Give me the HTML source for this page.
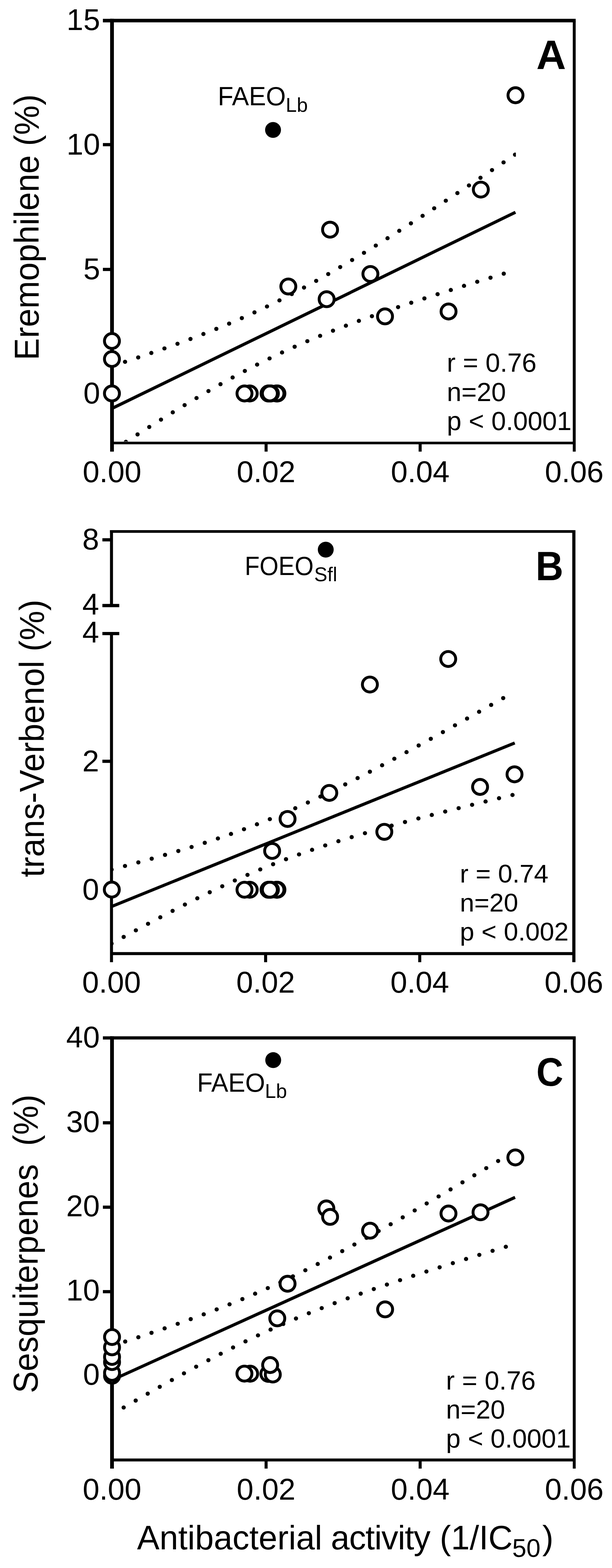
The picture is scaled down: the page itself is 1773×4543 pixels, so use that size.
<!DOCTYPE html>
<html lang="en">
<head>
<meta charset="utf-8">
<title>Correlation of essential oil components with antibacterial activity</title>
<style>
html,body{margin:0;padding:0;background:#fff;}
body{width:1773px;height:4543px;overflow:hidden;}
svg{display:block;}
svg text{font-family:"Liberation Sans", sans-serif;fill:#000;white-space:pre;}
</style>
</head>
<body>
<svg width="1773" height="4543" viewBox="0 0 1773 4543" role="img" aria-label="Scatter plots of essential oil components versus antibacterial activity">
<rect width="1773" height="4543" fill="#fff"/>
<clipPath id="clipA"><rect x="324.5" y="59.7" width="1170.0" height="1219.3"/></clipPath>
<g clip-path="url(#clipA)" fill="#000">
<circle cx="324.1" cy="1060.7" r="6.1"/>
<circle cx="362.3" cy="1048.3" r="6.1"/>
<circle cx="400.4" cy="1035.6" r="6.1"/>
<circle cx="438.4" cy="1022.7" r="6.1"/>
<circle cx="476.4" cy="1009.5" r="6.1"/>
<circle cx="514.2" cy="996.0" r="6.1"/>
<circle cx="551.8" cy="982.1" r="6.1"/>
<circle cx="589.3" cy="967.7" r="6.1"/>
<circle cx="626.7" cy="952.9" r="6.1"/>
<circle cx="663.8" cy="937.6" r="6.1"/>
<circle cx="700.6" cy="921.6" r="6.1"/>
<circle cx="737.2" cy="905.1" r="6.1"/>
<circle cx="773.5" cy="888.0" r="6.1"/>
<circle cx="809.6" cy="870.3" r="6.1"/>
<circle cx="845.3" cy="852.0" r="6.1"/>
<circle cx="880.8" cy="833.1" r="6.1"/>
<circle cx="916.0" cy="813.8" r="6.1"/>
<circle cx="950.9" cy="794.0" r="6.1"/>
<circle cx="985.6" cy="773.8" r="6.1"/>
<circle cx="1020.1" cy="753.3" r="6.1"/>
<circle cx="1054.5" cy="732.5" r="6.1"/>
<circle cx="1088.7" cy="711.5" r="6.1"/>
<circle cx="1122.7" cy="690.2" r="6.1"/>
<circle cx="1156.7" cy="668.7" r="6.1"/>
<circle cx="1190.5" cy="647.1" r="6.1"/>
<circle cx="1224.3" cy="625.3" r="6.1"/>
<circle cx="1257.9" cy="603.5" r="6.1"/>
<circle cx="1291.5" cy="581.5" r="6.1"/>
<circle cx="1325.1" cy="559.4" r="6.1"/>
<circle cx="1358.6" cy="537.3" r="6.1"/>
<circle cx="1392.0" cy="515.1" r="6.1"/>
<circle cx="1425.4" cy="492.8" r="6.1"/>
<circle cx="1458.8" cy="470.5" r="6.1"/>
<circle cx="1492.1" cy="448.1" r="6.1"/>
<circle cx="331.0" cy="1302.0" r="6.1"/>
<circle cx="364.7" cy="1280.2" r="6.1"/>
<circle cx="398.5" cy="1258.6" r="6.1"/>
<circle cx="432.4" cy="1237.1" r="6.1"/>
<circle cx="466.4" cy="1215.8" r="6.1"/>
<circle cx="500.5" cy="1194.7" r="6.1"/>
<circle cx="534.8" cy="1173.8" r="6.1"/>
<circle cx="569.3" cy="1153.3" r="6.1"/>
<circle cx="603.9" cy="1133.0" r="6.1"/>
<circle cx="638.8" cy="1113.1" r="6.1"/>
<circle cx="673.9" cy="1093.7" r="6.1"/>
<circle cx="709.3" cy="1074.8" r="6.1"/>
<circle cx="744.9" cy="1056.3" r="6.1"/>
<circle cx="780.9" cy="1038.5" r="6.1"/>
<circle cx="817.1" cy="1021.2" r="6.1"/>
<circle cx="853.6" cy="1004.6" r="6.1"/>
<circle cx="890.4" cy="988.5" r="6.1"/>
<circle cx="927.4" cy="973.0" r="6.1"/>
<circle cx="964.7" cy="958.1" r="6.1"/>
<circle cx="1002.1" cy="943.7" r="6.1"/>
<circle cx="1039.7" cy="929.7" r="6.1"/>
<circle cx="1077.5" cy="916.1" r="6.1"/>
<circle cx="1115.4" cy="902.8" r="6.1"/>
<circle cx="1153.3" cy="889.8" r="6.1"/>
<circle cx="1191.4" cy="877.1" r="6.1"/>
<circle cx="1229.5" cy="864.6" r="6.1"/>
<circle cx="1267.7" cy="852.3" r="6.1"/>
<circle cx="1306.0" cy="840.2" r="6.1"/>
<circle cx="1344.3" cy="828.2" r="6.1"/>
<circle cx="1382.6" cy="816.3" r="6.1"/>
<circle cx="1421.0" cy="804.6" r="6.1"/>
<circle cx="1459.4" cy="792.9" r="6.1"/>
</g>
<line x1="324.5" y1="1183.4" x2="1493.3" y2="615.0" stroke="#000" stroke-width="9.0"/>
<line x1="319.05" x2="1667.80" y1="59.7" y2="59.7" stroke="#000" stroke-width="10.3"/>
<line x1="1663.6" x2="1663.6" y1="59.7" y2="1308.5" stroke="#000" stroke-width="8.4"/>
<line x1="324.5" x2="1663.6" y1="1283.5" y2="1283.5" stroke="#000" stroke-width="7.6"/>
<line x1="324.5" x2="324.5" y1="54.55" y2="1308.5" stroke="#000" stroke-width="10.9"/>
<line x1="770.9" x2="770.9" y1="1283.5" y2="1308.5" stroke="#000" stroke-width="8.8"/>
<line x1="1217.2" x2="1217.2" y1="1283.5" y2="1308.5" stroke="#000" stroke-width="8.8"/>
<text x="324.5" y="1396.5" font-size="87.4" text-anchor="middle">0.00</text>
<text x="770.9" y="1396.5" font-size="87.4" text-anchor="middle">0.02</text>
<text x="1217.2" y="1396.5" font-size="87.4" text-anchor="middle">0.04</text>
<text x="1663.6" y="1396.5" font-size="87.4" text-anchor="middle">0.06</text>
<line x1="298.1" x2="324.5" y1="59.7" y2="59.7" stroke="#000" stroke-width="10.3"/>
<text x="290" y="87.0" font-size="87.4" text-anchor="end">15</text>
<line x1="298.1" x2="324.5" y1="419.1" y2="419.1" stroke="#000" stroke-width="9.3"/>
<text x="290" y="447.6" font-size="87.4" text-anchor="end">10</text>
<line x1="298.1" x2="324.5" y1="780.6" y2="780.6" stroke="#000" stroke-width="9.3"/>
<text x="290" y="809.1" font-size="87.4" text-anchor="end">5</text>
<text x="290" y="1169.0" font-size="87.4" text-anchor="end">0</text>
<circle cx="1493.4" cy="276.0" r="21.7" fill="#fff" stroke="#000" stroke-width="8.4"/>
<circle cx="1393" cy="549.3" r="21.7" fill="#fff" stroke="#000" stroke-width="8.4"/>
<circle cx="956.2" cy="665.4" r="21.7" fill="#fff" stroke="#000" stroke-width="8.4"/>
<circle cx="1073.1" cy="793.8" r="21.7" fill="#fff" stroke="#000" stroke-width="8.4"/>
<circle cx="835.3" cy="830.1" r="21.7" fill="#fff" stroke="#000" stroke-width="8.4"/>
<circle cx="946.3" cy="866.9" r="21.7" fill="#fff" stroke="#000" stroke-width="8.4"/>
<circle cx="1299.5" cy="902.5" r="21.7" fill="#fff" stroke="#000" stroke-width="8.4"/>
<circle cx="1115.4" cy="916.7" r="21.7" fill="#fff" stroke="#000" stroke-width="8.4"/>
<circle cx="803.7" cy="1140" r="21.7" fill="#fff" stroke="#000" stroke-width="8.4"/>
<circle cx="800.9" cy="1140" r="21.7" fill="#fff" stroke="#000" stroke-width="8.4"/>
<circle cx="784.8" cy="1140" r="21.7" fill="#fff" stroke="#000" stroke-width="8.4"/>
<circle cx="778" cy="1140" r="21.7" fill="#fff" stroke="#000" stroke-width="8.4"/>
<circle cx="781.8" cy="1140" r="21.7" fill="#fff" stroke="#000" stroke-width="8.4"/>
<circle cx="723.5" cy="1140" r="21.7" fill="#fff" stroke="#000" stroke-width="8.4"/>
<circle cx="708.3" cy="1140" r="21.7" fill="#fff" stroke="#000" stroke-width="8.4"/>
<circle cx="324.3" cy="1139.9" r="21.7" fill="#fff" stroke="#000" stroke-width="8.4"/>
<circle cx="324.3" cy="1040.2" r="21.7" fill="#fff" stroke="#000" stroke-width="8.4"/>
<circle cx="324.3" cy="988.0" r="21.7" fill="#fff" stroke="#000" stroke-width="8.4"/>
<circle cx="791" cy="376.4" r="23.0" fill="#000"/>
<text transform="translate(1596.7,200.2) scale(1,1)" font-size="119" font-weight="bold" text-anchor="middle">A</text>
<text transform="translate(631,305.4) scale(0.965,1)" font-size="76.5">FAEO</text>
<text x="827.8" y="323.5" font-size="57.5">Lb</text>
<text x="1294.5" y="1077.3" font-size="76" xml:space="preserve">r = 0.76</text>
<text x="1294.5" y="1161.6" font-size="76" xml:space="preserve">n=20</text>
<text x="1294.5" y="1245.9" font-size="76" xml:space="preserve">p &lt; 0.0001</text>
<text transform="translate(112.2,658.5) rotate(-90) scale(0.9535,1)" font-size="101" text-anchor="middle" xml:space="preserve">Eremophilene (%)</text>
<clipPath id="clipB"><rect x="323.0" y="1539.8" width="1339.5" height="1218.5"/></clipPath>
<g clip-path="url(#clipB)" fill="#000">
<circle cx="323.3" cy="2519.2" r="6.1"/>
<circle cx="362.1" cy="2509.0" r="6.1"/>
<circle cx="400.8" cy="2498.6" r="6.1"/>
<circle cx="439.5" cy="2487.9" r="6.1"/>
<circle cx="478.1" cy="2476.9" r="6.1"/>
<circle cx="516.6" cy="2465.6" r="6.1"/>
<circle cx="555.0" cy="2454.0" r="6.1"/>
<circle cx="593.2" cy="2441.9" r="6.1"/>
<circle cx="631.3" cy="2429.3" r="6.1"/>
<circle cx="669.2" cy="2416.2" r="6.1"/>
<circle cx="706.9" cy="2402.5" r="6.1"/>
<circle cx="744.4" cy="2388.2" r="6.1"/>
<circle cx="781.7" cy="2373.3" r="6.1"/>
<circle cx="818.7" cy="2357.8" r="6.1"/>
<circle cx="855.4" cy="2341.7" r="6.1"/>
<circle cx="891.9" cy="2325.1" r="6.1"/>
<circle cx="928.2" cy="2308.0" r="6.1"/>
<circle cx="964.3" cy="2290.5" r="6.1"/>
<circle cx="1000.2" cy="2272.6" r="6.1"/>
<circle cx="1036.0" cy="2254.4" r="6.1"/>
<circle cx="1071.6" cy="2235.9" r="6.1"/>
<circle cx="1107.0" cy="2217.2" r="6.1"/>
<circle cx="1142.4" cy="2198.3" r="6.1"/>
<circle cx="1177.7" cy="2179.2" r="6.1"/>
<circle cx="1212.9" cy="2159.9" r="6.1"/>
<circle cx="1248.0" cy="2140.6" r="6.1"/>
<circle cx="1283.1" cy="2121.1" r="6.1"/>
<circle cx="1318.1" cy="2101.5" r="6.1"/>
<circle cx="1353.1" cy="2081.9" r="6.1"/>
<circle cx="1388.0" cy="2062.2" r="6.1"/>
<circle cx="1422.9" cy="2042.4" r="6.1"/>
<circle cx="1457.8" cy="2022.6" r="6.1"/>
<circle cx="323.1" cy="2733.9" r="6.1"/>
<circle cx="358.3" cy="2714.6" r="6.1"/>
<circle cx="393.6" cy="2695.5" r="6.1"/>
<circle cx="428.9" cy="2676.5" r="6.1"/>
<circle cx="464.4" cy="2657.7" r="6.1"/>
<circle cx="500.0" cy="2639.1" r="6.1"/>
<circle cx="535.7" cy="2620.8" r="6.1"/>
<circle cx="571.6" cy="2602.7" r="6.1"/>
<circle cx="607.6" cy="2585.1" r="6.1"/>
<circle cx="643.9" cy="2567.8" r="6.1"/>
<circle cx="680.3" cy="2551.0" r="6.1"/>
<circle cx="717.0" cy="2534.8" r="6.1"/>
<circle cx="754.0" cy="2519.0" r="6.1"/>
<circle cx="791.2" cy="2503.9" r="6.1"/>
<circle cx="828.6" cy="2489.4" r="6.1"/>
<circle cx="866.3" cy="2475.5" r="6.1"/>
<circle cx="904.1" cy="2462.2" r="6.1"/>
<circle cx="942.2" cy="2449.5" r="6.1"/>
<circle cx="980.4" cy="2437.2" r="6.1"/>
<circle cx="1018.8" cy="2425.4" r="6.1"/>
<circle cx="1057.3" cy="2414.0" r="6.1"/>
<circle cx="1095.9" cy="2402.9" r="6.1"/>
<circle cx="1134.5" cy="2392.2" r="6.1"/>
<circle cx="1173.3" cy="2381.6" r="6.1"/>
<circle cx="1212.1" cy="2371.3" r="6.1"/>
<circle cx="1250.9" cy="2361.2" r="6.1"/>
<circle cx="1289.8" cy="2351.3" r="6.1"/>
<circle cx="1328.7" cy="2341.5" r="6.1"/>
<circle cx="1367.7" cy="2331.8" r="6.1"/>
<circle cx="1406.7" cy="2322.2" r="6.1"/>
<circle cx="1445.7" cy="2312.7" r="6.1"/>
<circle cx="1484.7" cy="2303.3" r="6.1"/>
</g>
<line x1="323.6" y1="2626.4" x2="1491.2" y2="2152.6" stroke="#000" stroke-width="9.0"/>
<line x1="318.65" x2="1667.10" y1="1539.8" y2="1539.8" stroke="#000" stroke-width="7.7"/>
<line x1="1662.5" x2="1662.5" y1="1539.8" y2="2787.8" stroke="#000" stroke-width="9.2"/>
<line x1="323.0" x2="1662.5" y1="2762.8" y2="2762.8" stroke="#000" stroke-width="8.7"/>
<line x1="323.0" x2="323.0" y1="1535.95" y2="1754.5" stroke="#000" stroke-width="8.7"/>
<line x1="323.0" x2="323.0" y1="1835.6" y2="2787.8" stroke="#000" stroke-width="8.7"/>
<line x1="296.6" x2="345.5" y1="1754.5" y2="1754.5" stroke="#000" stroke-width="9.3"/>
<line x1="296.6" x2="345.5" y1="1835.6" y2="1835.6" stroke="#000" stroke-width="9.3"/>
<line x1="769.5" x2="769.5" y1="2762.8" y2="2787.8" stroke="#000" stroke-width="8.8"/>
<line x1="1216.0" x2="1216.0" y1="2762.8" y2="2787.8" stroke="#000" stroke-width="8.8"/>
<text x="323.0" y="2876.0" font-size="87.4" text-anchor="middle">0.00</text>
<text x="769.5" y="2876.0" font-size="87.4" text-anchor="middle">0.02</text>
<text x="1216.0" y="2876.0" font-size="87.4" text-anchor="middle">0.04</text>
<text x="1662.5" y="2876.0" font-size="87.4" text-anchor="middle">0.06</text>
<line x1="296.6" x2="323.0" y1="1564" y2="1564" stroke="#000" stroke-width="9.3"/>
<text x="287" y="1592.0" font-size="87.4" text-anchor="end">8</text>
<text x="287" y="1780.5" font-size="87.4" text-anchor="end">4</text>
<text x="287" y="1861.6" font-size="87.4" text-anchor="end">4</text>
<line x1="296.6" x2="323.0" y1="2205.7" y2="2205.7" stroke="#000" stroke-width="9.3"/>
<text x="287" y="2234.7" font-size="87.4" text-anchor="end">2</text>
<text x="287" y="2606.9" font-size="87.4" text-anchor="end">0</text>
<circle cx="1298.5" cy="1909.3" r="21.7" fill="#fff" stroke="#000" stroke-width="8.4"/>
<circle cx="1071.6" cy="1983.3" r="21.7" fill="#fff" stroke="#000" stroke-width="8.4"/>
<circle cx="1490.6" cy="2243.5" r="21.7" fill="#fff" stroke="#000" stroke-width="8.4"/>
<circle cx="1390.8" cy="2280" r="21.7" fill="#fff" stroke="#000" stroke-width="8.4"/>
<circle cx="954" cy="2297.3" r="21.7" fill="#fff" stroke="#000" stroke-width="8.4"/>
<circle cx="833.1" cy="2372.8" r="21.7" fill="#fff" stroke="#000" stroke-width="8.4"/>
<circle cx="1113.4" cy="2410.1" r="21.7" fill="#fff" stroke="#000" stroke-width="8.4"/>
<circle cx="788.4" cy="2465.4" r="21.7" fill="#fff" stroke="#000" stroke-width="8.4"/>
<circle cx="803.7" cy="2577.8" r="21.7" fill="#fff" stroke="#000" stroke-width="8.4"/>
<circle cx="800.9" cy="2577.8" r="21.7" fill="#fff" stroke="#000" stroke-width="8.4"/>
<circle cx="784.8" cy="2577.8" r="21.7" fill="#fff" stroke="#000" stroke-width="8.4"/>
<circle cx="778" cy="2577.8" r="21.7" fill="#fff" stroke="#000" stroke-width="8.4"/>
<circle cx="781.8" cy="2577.8" r="21.7" fill="#fff" stroke="#000" stroke-width="8.4"/>
<circle cx="723.5" cy="2577.8" r="21.7" fill="#fff" stroke="#000" stroke-width="8.4"/>
<circle cx="708.3" cy="2577.8" r="21.7" fill="#fff" stroke="#000" stroke-width="8.4"/>
<circle cx="323.9" cy="2577.5" r="21.7" fill="#fff" stroke="#000" stroke-width="8.4"/>
<circle cx="943.7" cy="1592.4" r="23.0" fill="#000"/>
<text transform="translate(1591.9,1680.6) scale(0.935,1)" font-size="119" font-weight="bold" text-anchor="middle">B</text>
<text transform="translate(709,1666.2) scale(0.921,1)" font-size="76.5">FOEO</text>
<text x="910.3" y="1683.8" font-size="57">Sfl</text>
<text x="1332.3" y="2556.7" font-size="75" xml:space="preserve">r = 0.74</text>
<text x="1332.3" y="2641.0" font-size="75" xml:space="preserve">n=20</text>
<text x="1332.3" y="2725.3" font-size="75" xml:space="preserve">p &lt; 0.002</text>
<text transform="translate(127,2139.5) rotate(-90) scale(0.955,1)" font-size="101" text-anchor="middle" xml:space="preserve">trans-Verbenol (%)</text>
<clipPath id="clipC"><rect x="324.5" y="3007.2" width="1339.1" height="1218.3"/></clipPath>
<g clip-path="url(#clipC)" fill="#000">
<circle cx="324.5" cy="3899.2" r="6.1"/>
<circle cx="362.7" cy="3886.9" r="6.1"/>
<circle cx="400.8" cy="3874.4" r="6.1"/>
<circle cx="438.9" cy="3861.6" r="6.1"/>
<circle cx="476.9" cy="3848.7" r="6.1"/>
<circle cx="514.8" cy="3835.5" r="6.1"/>
<circle cx="552.5" cy="3821.9" r="6.1"/>
<circle cx="590.2" cy="3808.0" r="6.1"/>
<circle cx="627.7" cy="3793.8" r="6.1"/>
<circle cx="665.0" cy="3779.0" r="6.1"/>
<circle cx="702.2" cy="3763.9" r="6.1"/>
<circle cx="739.1" cy="3748.2" r="6.1"/>
<circle cx="775.8" cy="3732.0" r="6.1"/>
<circle cx="812.3" cy="3715.2" r="6.1"/>
<circle cx="848.6" cy="3698.0" r="6.1"/>
<circle cx="884.6" cy="3680.3" r="6.1"/>
<circle cx="920.4" cy="3662.2" r="6.1"/>
<circle cx="956.0" cy="3643.7" r="6.1"/>
<circle cx="991.5" cy="3624.9" r="6.1"/>
<circle cx="1026.7" cy="3605.8" r="6.1"/>
<circle cx="1061.9" cy="3586.4" r="6.1"/>
<circle cx="1096.9" cy="3566.8" r="6.1"/>
<circle cx="1131.8" cy="3547.0" r="6.1"/>
<circle cx="1166.7" cy="3527.1" r="6.1"/>
<circle cx="1201.4" cy="3507.0" r="6.1"/>
<circle cx="1236.1" cy="3486.8" r="6.1"/>
<circle cx="1270.7" cy="3466.5" r="6.1"/>
<circle cx="1305.3" cy="3446.1" r="6.1"/>
<circle cx="1339.8" cy="3425.6" r="6.1"/>
<circle cx="1374.2" cy="3405.1" r="6.1"/>
<circle cx="1408.7" cy="3384.5" r="6.1"/>
<circle cx="1443.1" cy="3363.8" r="6.1"/>
<circle cx="1477.5" cy="3343.1" r="6.1"/>
<circle cx="323.6" cy="4098.3" r="6.1"/>
<circle cx="358.3" cy="4078.0" r="6.1"/>
<circle cx="393.1" cy="4057.9" r="6.1"/>
<circle cx="427.9" cy="4037.9" r="6.1"/>
<circle cx="462.8" cy="4018.1" r="6.1"/>
<circle cx="497.9" cy="3998.4" r="6.1"/>
<circle cx="533.0" cy="3979.0" r="6.1"/>
<circle cx="568.3" cy="3959.8" r="6.1"/>
<circle cx="603.7" cy="3940.9" r="6.1"/>
<circle cx="639.4" cy="3922.3" r="6.1"/>
<circle cx="675.2" cy="3904.1" r="6.1"/>
<circle cx="711.2" cy="3886.4" r="6.1"/>
<circle cx="747.4" cy="3869.0" r="6.1"/>
<circle cx="783.9" cy="3852.2" r="6.1"/>
<circle cx="820.6" cy="3835.9" r="6.1"/>
<circle cx="857.5" cy="3820.1" r="6.1"/>
<circle cx="894.7" cy="3804.8" r="6.1"/>
<circle cx="932.0" cy="3790.0" r="6.1"/>
<circle cx="969.5" cy="3775.6" r="6.1"/>
<circle cx="1007.2" cy="3761.7" r="6.1"/>
<circle cx="1045.0" cy="3748.1" r="6.1"/>
<circle cx="1082.9" cy="3734.8" r="6.1"/>
<circle cx="1120.9" cy="3721.8" r="6.1"/>
<circle cx="1159.0" cy="3709.0" r="6.1"/>
<circle cx="1197.1" cy="3696.4" r="6.1"/>
<circle cx="1235.3" cy="3684.0" r="6.1"/>
<circle cx="1273.6" cy="3671.8" r="6.1"/>
<circle cx="1311.9" cy="3659.7" r="6.1"/>
<circle cx="1350.2" cy="3647.7" r="6.1"/>
<circle cx="1388.6" cy="3635.8" r="6.1"/>
<circle cx="1427.0" cy="3624.0" r="6.1"/>
<circle cx="1465.4" cy="3612.3" r="6.1"/>
</g>
<line x1="324.5" y1="3998.5" x2="1492.2" y2="3469.2" stroke="#000" stroke-width="9.0"/>
<line x1="319.05" x2="1667.80" y1="3007.2" y2="3007.2" stroke="#000" stroke-width="9.3"/>
<line x1="1663.6" x2="1663.6" y1="3007.2" y2="4255.0" stroke="#000" stroke-width="8.4"/>
<line x1="324.5" x2="1663.6" y1="4230.0" y2="4230.0" stroke="#000" stroke-width="8.4"/>
<line x1="324.5" x2="324.5" y1="3002.55" y2="4255.0" stroke="#000" stroke-width="10.9"/>
<line x1="770.9" x2="770.9" y1="4230.0" y2="4255.0" stroke="#000" stroke-width="8.8"/>
<line x1="1217.2" x2="1217.2" y1="4230.0" y2="4255.0" stroke="#000" stroke-width="8.8"/>
<text x="324.5" y="4344.5" font-size="87.4" text-anchor="middle">0.00</text>
<text x="770.9" y="4344.5" font-size="87.4" text-anchor="middle">0.02</text>
<text x="1217.2" y="4344.5" font-size="87.4" text-anchor="middle">0.04</text>
<text x="1663.6" y="4344.5" font-size="87.4" text-anchor="middle">0.06</text>
<line x1="298.1" x2="324.5" y1="3007.2" y2="3007.2" stroke="#000" stroke-width="9.3"/>
<text x="289" y="3035.2" font-size="87.4" text-anchor="end">40</text>
<line x1="298.1" x2="324.5" y1="3253.1" y2="3253.1" stroke="#000" stroke-width="9.3"/>
<text x="289" y="3280.4" font-size="87.4" text-anchor="end">30</text>
<line x1="298.1" x2="324.5" y1="3497.6" y2="3497.6" stroke="#000" stroke-width="9.3"/>
<text x="289" y="3524.4" font-size="87.4" text-anchor="end">20</text>
<line x1="298.1" x2="324.5" y1="3742.4" y2="3742.4" stroke="#000" stroke-width="9.3"/>
<text x="289" y="3768.3" font-size="87.4" text-anchor="end">10</text>
<text x="289" y="4012.2" font-size="87.4" text-anchor="end">0</text>
<circle cx="945.5" cy="3501.2" r="21.7" fill="#fff" stroke="#000" stroke-width="8.4"/>
<circle cx="956.3" cy="3525.7" r="21.7" fill="#fff" stroke="#000" stroke-width="8.4"/>
<circle cx="1299.3" cy="3516" r="21.7" fill="#fff" stroke="#000" stroke-width="8.4"/>
<circle cx="1392.1" cy="3512.4" r="21.7" fill="#fff" stroke="#000" stroke-width="8.4"/>
<circle cx="1072.1" cy="3565.7" r="21.7" fill="#fff" stroke="#000" stroke-width="8.4"/>
<circle cx="833.1" cy="3719.4" r="21.7" fill="#fff" stroke="#000" stroke-width="8.4"/>
<circle cx="1115.7" cy="3793.7" r="21.7" fill="#fff" stroke="#000" stroke-width="8.4"/>
<circle cx="803.3" cy="3819.7" r="21.7" fill="#fff" stroke="#000" stroke-width="8.4"/>
<circle cx="777.5" cy="3980.5" r="21.7" fill="#fff" stroke="#000" stroke-width="8.4"/>
<circle cx="790.3" cy="3982.4" r="21.7" fill="#fff" stroke="#000" stroke-width="8.4"/>
<circle cx="782.6" cy="3955.0" r="21.7" fill="#fff" stroke="#000" stroke-width="8.4"/>
<circle cx="724.7" cy="3980.0" r="21.7" fill="#fff" stroke="#000" stroke-width="8.4"/>
<circle cx="708.1" cy="3979.8" r="21.7" fill="#fff" stroke="#000" stroke-width="8.4"/>
<circle cx="324.6" cy="3986.0" r="21.7" fill="#fff" stroke="#000" stroke-width="8.4"/>
<circle cx="324.6" cy="3977.7" r="21.7" fill="#fff" stroke="#000" stroke-width="8.4"/>
<circle cx="324.6" cy="3946.4" r="21.7" fill="#fff" stroke="#000" stroke-width="8.4"/>
<circle cx="324.6" cy="3931.5" r="21.7" fill="#fff" stroke="#000" stroke-width="8.4"/>
<circle cx="324.6" cy="3903.7" r="21.7" fill="#fff" stroke="#000" stroke-width="8.4"/>
<circle cx="324.6" cy="3873.8" r="21.7" fill="#fff" stroke="#000" stroke-width="8.4"/>
<circle cx="1493.0" cy="3353.5" r="21.7" fill="#fff" stroke="#000" stroke-width="8.4"/>
<circle cx="791.5" cy="3071.6" r="23.0" fill="#000"/>
<text transform="translate(1592.8,3145.6) scale(0.945,1)" font-size="114.5" font-weight="bold" text-anchor="middle">C</text>
<text transform="translate(571,3163.2) scale(0.965,1)" font-size="76.5">FAEO</text>
<text x="767.5" y="3180.8" font-size="57.5">Lb</text>
<text x="1292" y="4025.5" font-size="76" xml:space="preserve">r = 0.76</text>
<text x="1292" y="4109.8" font-size="76" xml:space="preserve">n=20</text>
<text x="1292" y="4194.1" font-size="76" xml:space="preserve">p &lt; 0.0001</text>
<text transform="translate(108.5,3604) rotate(-90) scale(0.9456,1)" font-size="101" text-anchor="middle" xml:space="preserve">Sesquiterpenes  (%)</text>
<text x="397" y="4489" font-size="97.5">Antibacterial</text>
<text x="958.5" y="4489" font-size="97.5" letter-spacing="-1.3">activity</text>
<text x="1274" y="4489" font-size="97.5">(1/IC</text>
<text x="1484" y="4510.5" font-size="73.5">50</text>
<text x="1571" y="4489" font-size="97.5">)</text>
</svg>
</body>
</html>
